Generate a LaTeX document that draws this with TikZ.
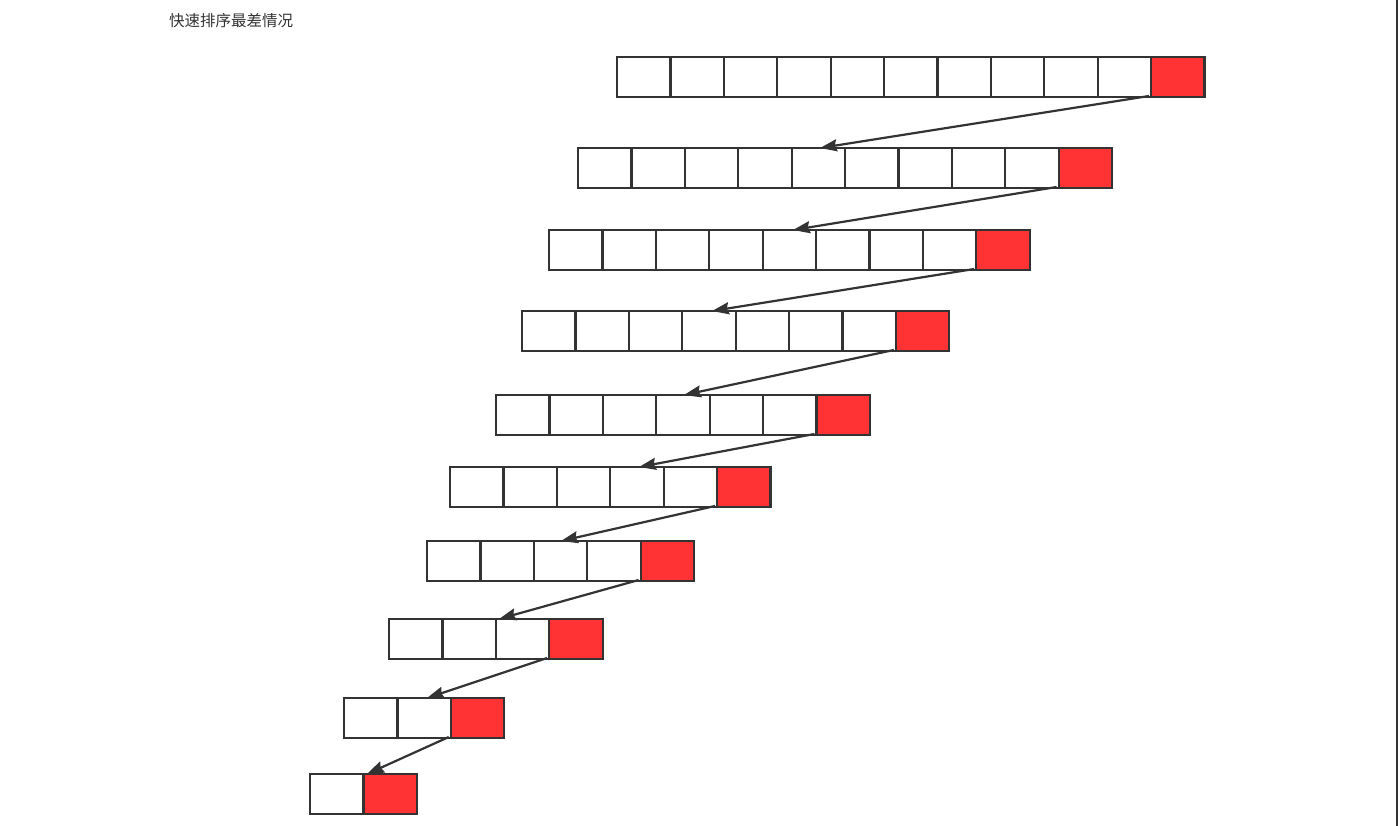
\documentclass[tikz,border=0pt]{standalone}
\usepackage{fontspec}
\newfontfamily\cjk{Noto Sans CJK SC}
\usetikzlibrary{arrows.meta,calc}
\definecolor{edge}{HTML}{333333}
\definecolor{hot}{HTML}{FF3333}
\begin{document}
\begin{tikzpicture}[x=1pt,y=-1pt,
 cell/.style={draw=edge,line width=2.2pt,minimum width=53.4pt,minimum height=40pt,inner sep=0pt,outer sep=0pt,anchor=north west},
 link/.style={draw=edge,line width=2.2pt,-{Stealth[length=17pt,width=12pt,inset=2pt]}}]
\useasboundingbox (0,0) rectangle (1398,826);
\fill[edge] (1396,0) rectangle (1398,826);
\node[anchor=west,font=\cjk\fontsize{15.5}{18}\selectfont,text=edge,inner sep=0pt] (title) at (169,21) {快速排序最差情况};
\foreach \r/\x/\y/\n in {1/617/57/11, 2/578/148/10, 3/549/230/9, 4/522/311/8, 5/496/395/7, 6/450/467/6, 7/427/541/5, 8/389/619/4, 9/344/698/3, 10/310/774/2}{
  \foreach \c in {1,...,\n}{
    \ifnum\c=\n\relax \def\fc{hot}\else\def\fc{white}\fi
    \node[cell,fill=\fc] (r\r-\c) at ({\x+(\c-1)*53.4},\y) {};
  }
}
\foreach \a/\b/\n/\d in {1/2/11/242, 2/3/10/244, 3/4/9/190, 4/5/8/188, 5/6/7/189, 6/7/6/134, 7/8/5/110, 8/9/4/83, 9/10/3/57}{
  \coordinate (t\b) at ($(r\b-1.north west)+(\d,0)$);
  \draw[link] ($(r\a-\n.south west)+(-2,-1)$) -- (t\b);
}
\end{tikzpicture}
\end{document}
